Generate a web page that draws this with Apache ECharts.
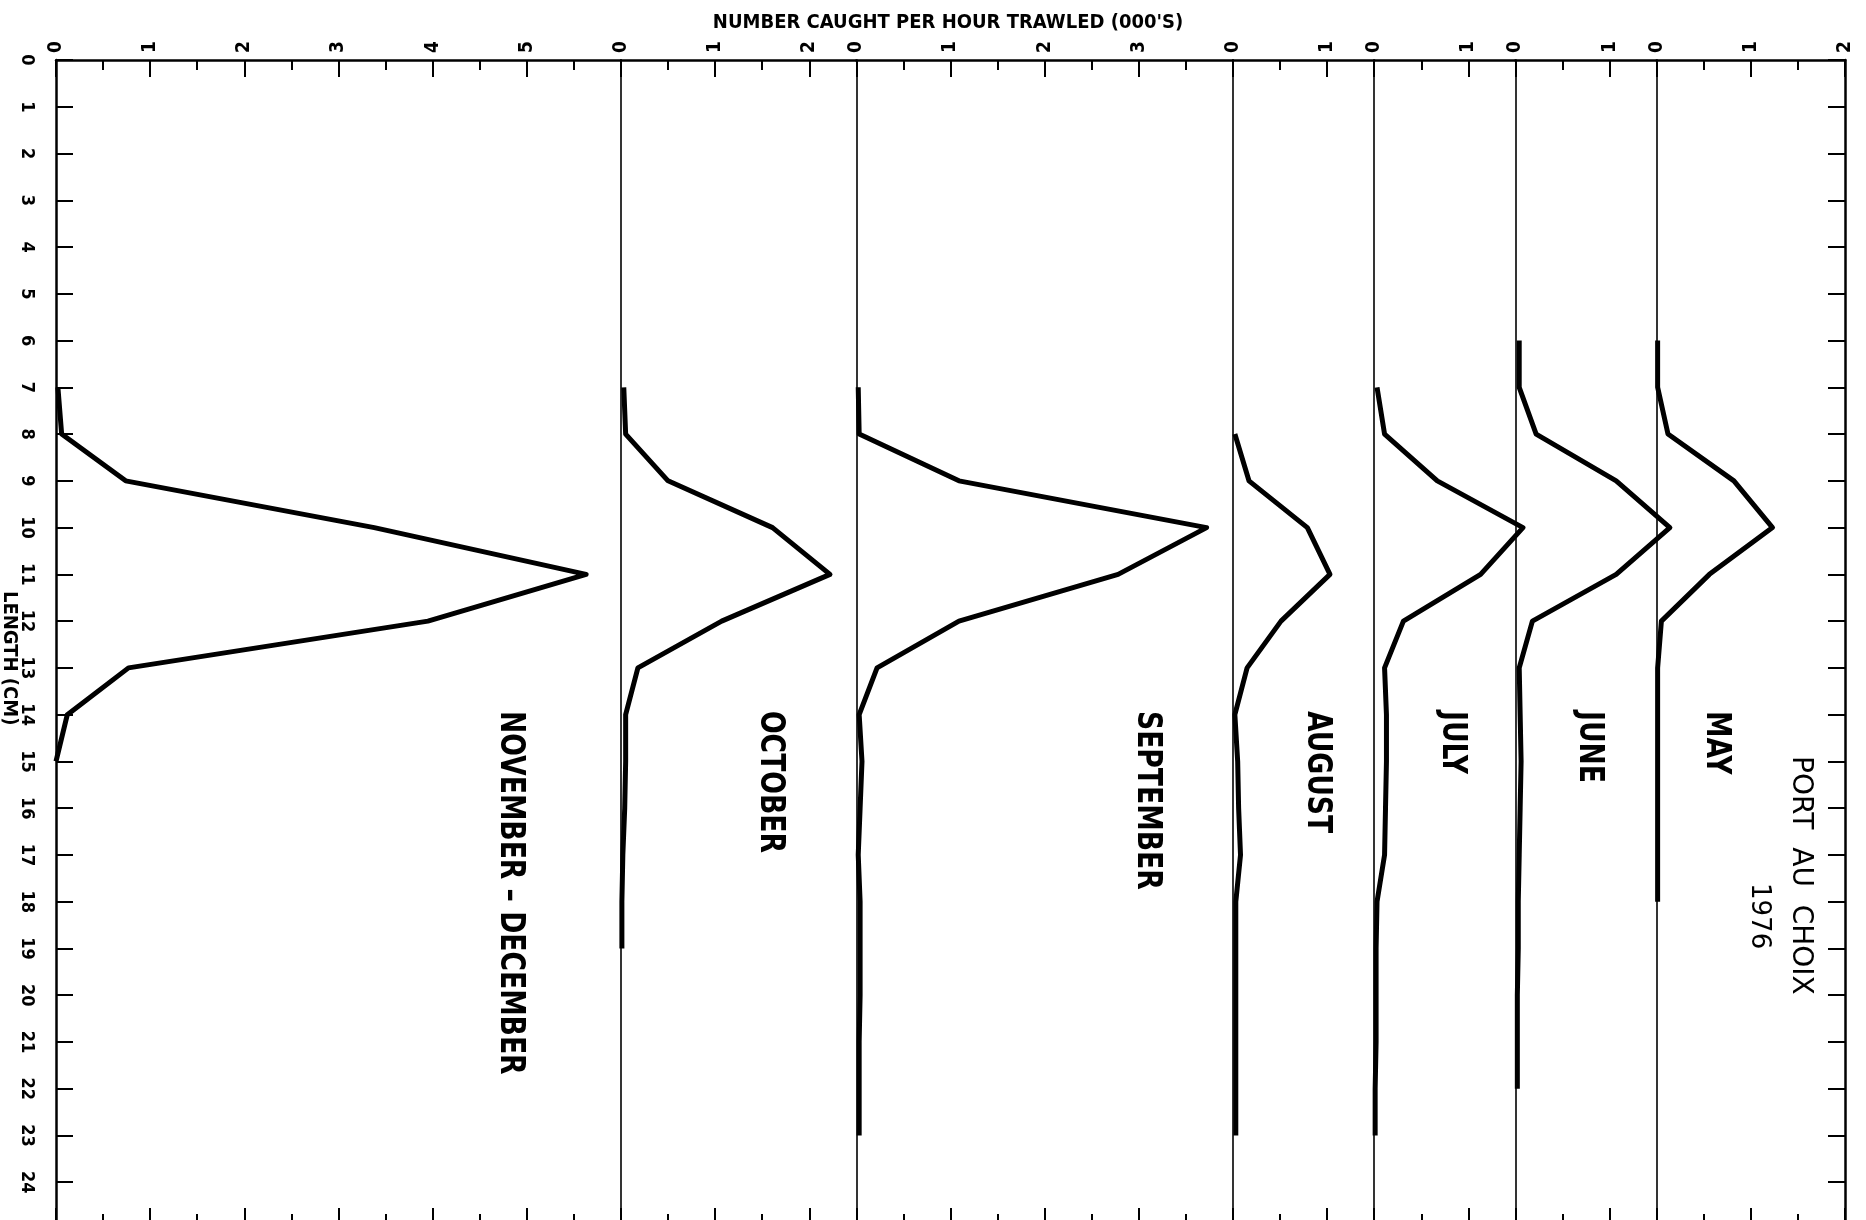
<!DOCTYPE html>
<html>
<head>
<meta charset="utf-8">
<title>Port au Choix 1976</title>
<script src="https://cdn.jsdelivr.net/npm/echarts@6/dist/echarts.min.js"></script>
<style>
  html, body { margin: 0; padding: 0; background: #fff; }
  #main { width: 1866px; height: 1220px; }
</style>
</head>
<body>
<div id="main"></div>
<script>
// length classes (cm) and number caught per hour trawled (000's), one pair per month
var novLen = [7, 8, 9, 10, 11, 12, 13, 14, 15];
var novVal = [0.02, 0.06, 0.74, 3.38, 5.63, 3.95, 0.77, 0.12, 0];

var octLen = [7, 8, 9, 10, 11, 12, 13, 14, 15, 16, 17, 18, 19];
var octVal = [0.03, 0.05, 0.5, 1.61, 2.22, 1.07, 0.18, 0.05, 0.05, 0.04, 0.02, 0.01, 0.01];

var sepLen = [7, 8, 9, 10, 11, 12, 13, 14, 15, 16, 17, 18, 19, 20, 21, 22, 23];
var sepVal = [0.02, 0.03, 1.09, 3.72, 2.78, 1.09, 0.22, 0.03, 0.06, 0.04, 0.02, 0.04, 0.04, 0.04, 0.03, 0.03, 0.03];

var augLen = [8, 9, 10, 11, 12, 13, 14, 15, 16, 17, 18, 19, 20, 21, 22, 23];
var augVal = [0.02, 0.17, 0.79, 1.03, 0.51, 0.15, 0.02, 0.05, 0.06, 0.08, 0.03, 0.03, 0.03, 0.03, 0.03, 0.03];

var julLen = [7, 8, 9, 10, 11, 12, 13, 14, 15, 16, 17, 18, 19, 20, 21, 22, 23];
var julVal = [0.03, 0.11, 0.67, 1.58, 1.13, 0.31, 0.11, 0.13, 0.13, 0.12, 0.11, 0.03, 0.02, 0.02, 0.02, 0.01, 0.01];

var junLen = [6, 7, 8, 9, 10, 11, 12, 13, 14, 15, 16, 17, 18, 19, 20, 21, 22];
var junVal = [0.04, 0.04, 0.22, 1.07, 1.64, 1.07, 0.18, 0.04, 0.05, 0.06, 0.05, 0.04, 0.03, 0.03, 0.02, 0.02, 0.02];

var mayLen = [6, 7, 8, 9, 10, 11, 12, 13, 14, 15, 16, 17, 18];
var mayVal = [0.01, 0.01, 0.12, 0.82, 1.23, 0.56, 0.05, 0.01, 0.01, 0.01, 0.01, 0.01, 0.01];

// panels from left to right, and the width of each value scale (000's)
var months = ["NOVEMBER \u2013 DECEMBER", "OCTOBER", "SEPTEMBER", "AUGUST", "JULY", "JUNE", "MAY"];
var panelMax = [6, 2.5, 4, 1.5, 1.5, 1.5, 2];
var lengths = [novLen, octLen, sepLen, augLen, julLen, junLen, mayLen];
var values = [novVal, octVal, sepVal, augVal, julVal, junVal, mayVal];

// length scale (cm), top to bottom; 25 falls just below the sheet
var lengthTicks = ["0", "1", "2", "3", "4", "5", "6", "7", "8", "9", "10", "11", "12",
  "13", "14", "15", "16", "17", "18", "19", "20", "21", "22", "23", "24", "25"];

var titleText = "NUMBER CAUGHT PER HOUR TRAWLED (000'S)";
var axisName = "LENGTH (CM)";

// page layout
var plotLeft = 56, plotRight = 1845, plotTop = 60, plotBottom = -9;
var labelX = [510, 770, 1147, 1317, 1452, 1589, 1716];
var labelTop = 711;
var digitFont = "DejaVu Sans Condensed";

var total = 0;
panelMax.forEach(function (w) { total += w; });
var unitX = (plotRight - plotLeft) / total;

var grids = [], xAxes = [], yAxes = [], series = [];
var cum = 0;
panelMax.forEach(function (w, i) {
  grids.push({
    left: plotLeft + cum * unitX,
    width: w * unitX,
    top: plotTop,
    bottom: plotBottom,
    containLabel: false,
    outerBoundsMode: "none"
  });
  cum += w;

  // top scale with labels
  xAxes.push({
    type: "value", gridIndex: i, position: "top",
    min: 0, max: w, interval: 1,
    axisLine: { show: true, lineStyle: { color: "#000", width: 2.5 } },
    axisTick: { show: true, inside: true, length: 17, lineStyle: { color: "#000", width: 2 } },
    minorTick: { show: true, splitNumber: 2, length: 10, lineStyle: { color: "#000", width: 2 } },
    axisLabel: {
      show: true, rotate: -90, margin: 7,
      showMinLabel: true, showMaxLabel: i === panelMax.length - 1,
      fontFamily: digitFont, fontWeight: "bold", fontSize: 19, color: "#000"
    },
    splitLine: { show: false }
  });
  // bottom scale, ticks only
  xAxes.push({
    type: "value", gridIndex: i, position: "bottom",
    min: 0, max: w, interval: 1,
    axisLine: { show: true, lineStyle: { color: "#000", width: 2.5 } },
    axisTick: { show: true, inside: true, length: 21, lineStyle: { color: "#000", width: 2 } },
    minorTick: { show: true, splitNumber: 2, length: 15, lineStyle: { color: "#000", width: 2 } },
    axisLabel: { show: false },
    splitLine: { show: false }
  });

  // each panel's zero line; the first one carries the length scale
  yAxes.push({
    type: "category", gridIndex: i, position: "left", inverse: true,
    data: lengthTicks, boundaryGap: false,
    axisLine: { show: true, onZero: false, lineStyle: { color: "#000", width: i === 0 ? 2.5 : 1.6 } },
    axisTick: { show: i === 0, inside: true, interval: 0, length: 17, lineStyle: { color: "#000", width: 2 } },
    axisLabel: {
      show: i === 0, interval: 0, rotate: -90, margin: 20,
      formatter: function (v) { return v === "25" ? "" : v; },
      fontFamily: digitFont, fontWeight: "bold", fontSize: 18, color: "#000"
    },
    splitLine: { show: false }
  });

  series.push({
    name: months[i],
    type: "line",
    xAxisIndex: 2 * i,
    yAxisIndex: i,
    data: lengths[i].map(function (len, j) { return [values[i][j], len]; }),
    symbol: "none",
    clip: false,
    lineStyle: { color: "#000", width: 5, join: "round" },
    silent: true
  });
});

// right-hand frame
yAxes.push({
  type: "category", gridIndex: panelMax.length - 1, position: "right", inverse: true,
  data: lengthTicks, boundaryGap: false,
  axisLine: { show: true, onZero: false, lineStyle: { color: "#000", width: 2.5 } },
  axisTick: { show: true, inside: true, interval: 0, length: 17, lineStyle: { color: "#000", width: 2 } },
  axisLabel: { show: false },
  splitLine: { show: false }
});

// month names and captions, written sideways like the original sheet
var graphics = months.map(function (m, i) {
  return {
    type: "text", x: labelX[i], y: labelTop, rotation: -Math.PI / 2, scaleX: 0.87,
    style: { text: m, font: 'bold 34px "DejaVu Sans Condensed"', fill: "#000", align: "left", verticalAlign: "middle" }
  };
});
graphics.push({
  type: "text", x: 1800, y: 756, rotation: -Math.PI / 2,
  style: { text: "PORT  AU  CHOIX", font: '28px "DejaVu Sans"', fill: "#000", align: "left", verticalAlign: "middle" }
});
graphics.push({
  type: "text", x: 1759, y: 883, rotation: -Math.PI / 2,
  style: { text: "1976", font: '26px "DejaVu Sans"', fill: "#000", align: "left", verticalAlign: "middle" }
});
graphics.push({
  type: "text", x: 9, y: 591, rotation: -Math.PI / 2,
  style: { text: axisName, font: 'bold 20px "DejaVu Sans Condensed"', fill: "#000", align: "left", verticalAlign: "middle" }
});
graphics.push({
  type: "text", x: 948, y: 23,
  style: { text: titleText, font: 'bold 20px "DejaVu Sans Condensed"', fill: "#000", align: "center", verticalAlign: "middle" }
});

var chart = echarts.init(document.getElementById("main"), null, { renderer: "canvas" });
var option = {
  backgroundColor: "#fff",
  animation: false,
  grid: grids,
  xAxis: xAxes,
  yAxis: yAxes,
  series: series,
  graphic: graphics
};
chart.setOption(option);
</script>
</body>
</html>
